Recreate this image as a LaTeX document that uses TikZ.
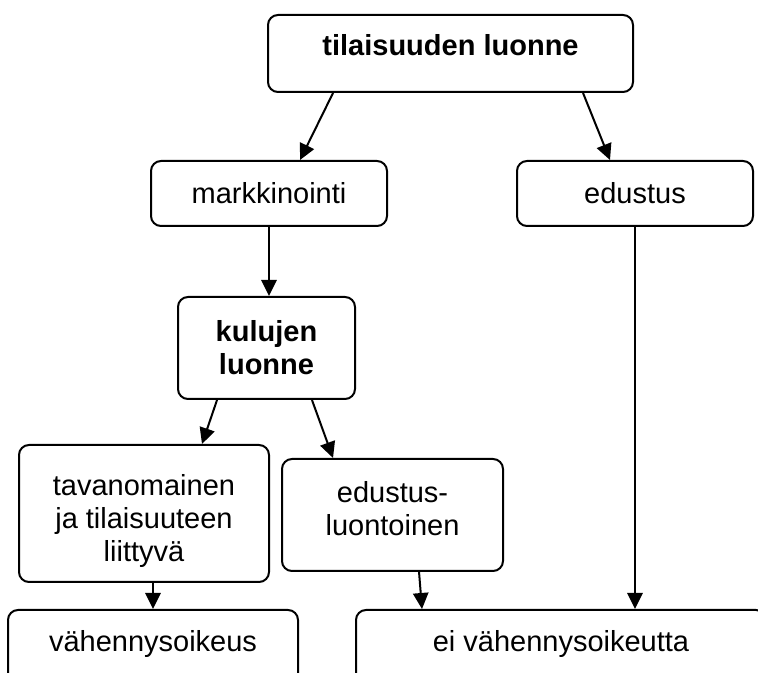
\documentclass[tikz,border=0pt]{standalone}
\usepackage{fontspec}
\setmainfont{Liberation Sans}
\usetikzlibrary{arrows.meta,positioning,calc}
\newcommand\boxfont{\fontsize{21.75}{24.75}\selectfont}

\begin{document}
\begin{tikzpicture}[x=.75pt,y=-.75pt,font=\boxfont,
  box/.style={draw,line width=1.5pt,rounded corners=7.5pt,align=center,minimum width=#1},
  openbox/.style={box=#1,anchor=north,inner ysep=0pt,text height=31.5pt,text depth=60pt},
  arr/.style={line width=1.5pt,-{Triangle[length=12pt,width=11.5pt]}}]
\clip (0,0) rectangle (758,673);
\node[box=273.75pt,minimum height=57.75pt,text depth=13.3pt,font=\boxfont\bfseries] (luonne) at (450.5,53.5) {tilaisuuden luonne};
\node[box=177pt,minimum height=48.75pt] (mark) at (269,193.5) {markkinointi};
\node[box=177pt,minimum height=48.75pt] (edus) at (635,193.5) {edustus};
\node[box=132.75pt,minimum height=76.5pt,font=\boxfont\bfseries] (kulut) at (266.5,348) {kulujen\\luonne};
\node[box=187.5pt,minimum height=102.75pt,text height=76.5pt] (tavan) at (144,513.5) {tavanomainen\\ja tilaisuuteen\\liittyvä};
\node[box=165.75pt,minimum height=84pt,text depth=9.2pt] (edlu) at (392.5,515) {edustus-\\luontoinen};
\node[openbox=217.5pt] (vahoik) at (153,609) {vähennysoikeus};
\node[openbox=307.5pt] (eivah) at (561,609) {ei vähennysoikeutta};
\draw[arr] ([xshift=-88.1pt]luonne.south) -- ([xshift=23.25pt]mark.north);
\draw[arr] ([xshift=99.4pt]luonne.south) -- ([xshift=-18.75pt]edus.north);
\draw[arr] (mark.south) -- (mark.south |- kulut.north);
\draw[arr] ([xshift=-37.1pt]kulut.south) -- ([xshift=43.5pt]tavan.north);
\draw[arr] ([xshift=34.1pt]kulut.south) -- ([xshift=-44.6pt]edlu.north);
\draw[arr] (vahoik.north |- tavan.south) -- (vahoik.north);
\draw[arr] ([xshift=19.9pt]edlu.south) -- ([xshift=-104.25pt]eivah.north);
\draw[arr] (edus.south) -- (edus.south |- eivah.north);
\end{tikzpicture}
\end{document}
